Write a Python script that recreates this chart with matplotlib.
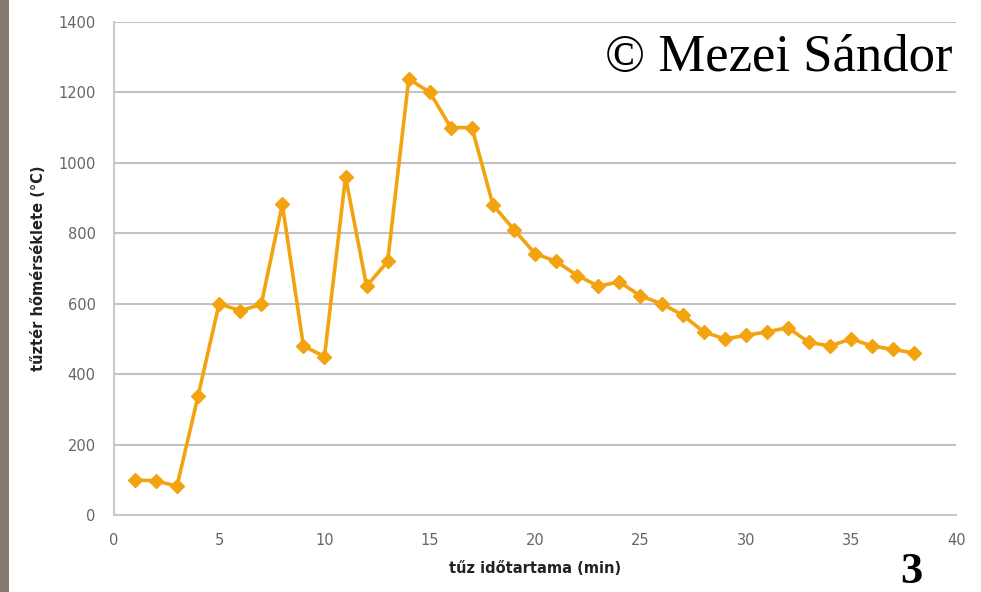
import matplotlib.pyplot as plt
from matplotlib.patches import Rectangle

# tűz időtartama (min) és tűztér hőmérséklete (°C)
minutes = list(range(1, 39))
temps = [100, 97, 82, 338, 600, 580, 598, 882, 480, 450,
         960, 650, 720, 1238, 1200, 1100, 1100, 880, 810, 742,
         720, 680, 650, 662, 622, 600, 568, 520, 500, 510,
         520, 532, 490, 480, 500, 480, 470, 460]

x_ticks = [0, 5, 10, 15, 20, 25, 30, 35, 40]
y_ticks = [0, 200, 400, 600, 800, 1000, 1200, 1400]

plt.rcParams['font.family'] = ['DejaVu Sans']

fig = plt.figure(figsize=(9.81, 5.92), dpi=100)
ax = fig.add_axes([0.116, 0.130, 0.859, 0.833])

# kőmintás bal szél
fig.patches.append(Rectangle((0, 0), 0.009, 1, transform=fig.transFigure,
                             facecolor='#857a72', edgecolor='none', zorder=0))

ax.plot(minutes, temps, color='#f2a30f', lw=2.6, marker='D', markersize=7,
        markeredgecolor='#f2a30f', zorder=3)

ax.set_xlim(0, 40)
ax.set_ylim(0, 1400)
ax.set_xticks(x_ticks)
ax.set_yticks(y_ticks)
ax.grid(axis='y', color='#c2c2c2', lw=1.5)
ax.set_axisbelow(True)
for side in ['top', 'right']:
    ax.spines[side].set_visible(False)
for side in ['left', 'bottom']:
    ax.spines[side].set_color('#cacaca')
    ax.spines[side].set_linewidth(1.5)
ax.tick_params(length=0, labelsize=10.5, labelcolor='#666666', pad=13)

ax.set_xlabel('tűz időtartama (min)', fontsize=10.5, fontweight='bold',
              color='#222222', labelpad=9)
ax.set_ylabel('tűztér hőmérséklete (°C)', fontsize=10.5, fontweight='bold',
              color='#222222', labelpad=9)

fig.text(0.971, 0.902, '© Mezei Sándor', family='Liberation Serif', fontsize=38,
         ha='right', va='center', color='black')
fig.text(0.918, 0.0, '3', family='Liberation Serif', fontsize=32,
         fontweight='bold', ha='left', va='bottom', color='black')

fig.savefig('out.png', dpi=100)
